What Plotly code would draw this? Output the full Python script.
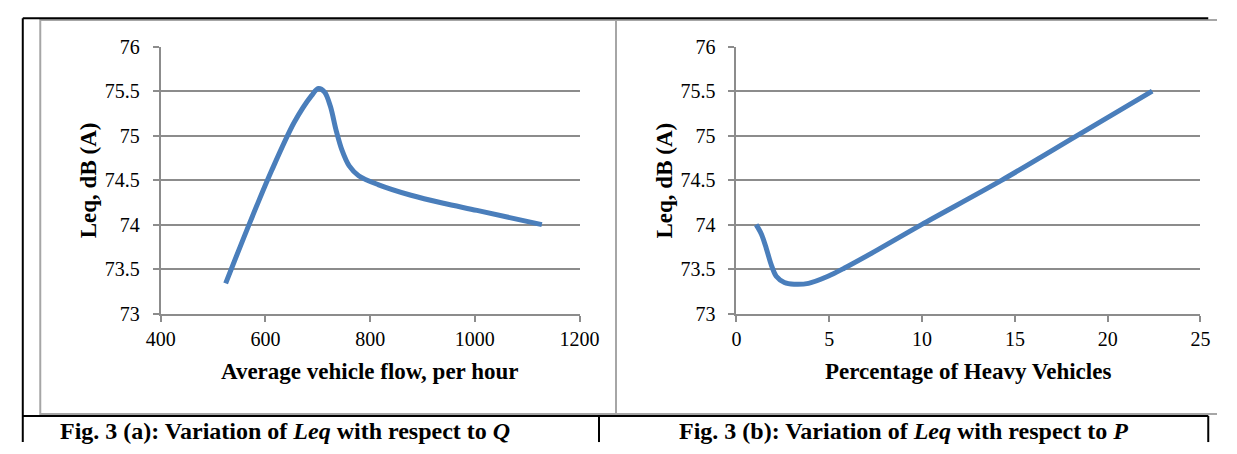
import plotly.graph_objects as go

# ---- data ----
flow_q = [524, 570, 612, 655, 688, 701, 713, 724, 735, 746, 760, 778, 815, 878, 940, 1004, 1128]
leq_q = [73.34, 74.02, 74.61, 75.15, 75.45, 75.53, 75.49, 75.33, 75.06, 74.84, 74.66, 74.55,
         74.45, 74.33, 74.24, 74.16, 74.00]

heavy_p = [1.06, 1.35, 1.61, 1.87, 2.14, 2.58, 3.10, 3.88, 4.93, 5.80, 7.55, 9.97, 14.3, 18.35, 22.4]
leq_p = [74.00, 73.89, 73.73, 73.55, 73.42, 73.35, 73.33, 73.34, 73.42, 73.51, 73.71, 74.00,
         74.50, 75.00, 75.50]

y_ticks = [73, 73.5, 74, 74.5, 75, 75.5, 76]
y_ticktext = ["73", "73.5", "74", "74.5", "75", "75.5", "76"]
q_ticks = [400, 600, 800, 1000, 1200]
p_ticks = [0, 5, 10, 15, 20, 25]

x_title_a = "Average vehicle flow, per hour"
x_title_b = "Percentage of Heavy Vehicles"
y_title = "Leq, dB (A)"
caption_a = "Fig. 3 (a): Variation of <i>Leq</i> with respect to <i>Q</i>"
caption_b = "Fig. 3 (b): Variation of <i>Leq</i> with respect to <i>P</i>"

# ---- layout helpers (pixel -> paper) ----
W, H = 1237, 454
def fx(px):
    return px / W
def fy(py):
    return 1 - py / H

FONT = "Times New Roman, Liberation Serif, serif"
LINE_COLOR = "#4A7EBB"
GRID = "#8c8c8c"

fig = go.Figure()
fig.add_trace(go.Scatter(x=flow_q, y=leq_q, mode="lines",
                         line=dict(color=LINE_COLOR, width=5, shape="spline", smoothing=0.9),
                         xaxis="x", yaxis="y", showlegend=False, hoverinfo="x+y"))
fig.add_trace(go.Scatter(x=heavy_p, y=leq_p, mode="lines",
                         line=dict(color=LINE_COLOR, width=5, shape="spline", smoothing=0.9),
                         xaxis="x2", yaxis="y2", showlegend=False, hoverinfo="x+y"))

axis_common = dict(showline=True, linecolor=GRID, linewidth=2, ticks="outside",
                   ticklen=6, tickwidth=2, tickcolor=GRID,
                   tickfont=dict(family=FONT, size=20, color="black"), zeroline=False)

y_common = dict(axis_common, range=[73, 76], tickvals=y_ticks, ticktext=y_ticktext,
                showgrid=True, gridcolor=GRID, gridwidth=2, ticklabelstandoff=9)
x_common = dict(axis_common, showgrid=False)

fig.update_layout(
    width=W, height=H,
    margin=dict(l=0, r=0, t=0, b=0),
    paper_bgcolor="white", plot_bgcolor="white",
    xaxis=dict(x_common, domain=[fx(150), fx(581)], range=[400, 1200], tickvals=q_ticks, anchor="y"),
    yaxis=dict(y_common, domain=[fy(318), fy(37.5)], anchor="x"),
    xaxis2=dict(x_common, domain=[fx(742.5), fx(1220)], range=[0, 25], tickvals=p_ticks, anchor="y2"),
    yaxis2=dict(y_common, domain=[fy(318), fy(37.5)], anchor="x2"),
)

# ---- frames: gray chart borders, black table lines (all kept inside the paper) ----
shapes = []
gray = dict(color="#a6a6a6", width=2)
shapes.append(dict(type="rect", xref="paper", yref="paper",
                   x0=fx(26), x1=fx(618.5), y0=fy(423.5), y1=fy(9.5), line=gray, layer="below"))
for (x0, y0, x1, y1) in [(618.5, 9.5, 1237, 9.5), (618.5, 423.5, 1237, 423.5)]:
    shapes.append(dict(type="line", xref="paper", yref="paper", layer="below",
                       x0=fx(x0), x1=fx(x1), y0=fy(y0), y1=fy(y1), line=gray))
black = dict(color="black", width=2)
for (x0, y0, x1, y1) in [(8, 7.5, 1228, 7.5), (8, 7.5, 8, 453), (8, 425.5, 1228, 425.5),
                         (601, 425.5, 601, 453), (1228, 425.5, 1228, 453)]:
    shapes.append(dict(type="line", xref="paper", yref="paper",
                       x0=fx(x0), x1=fx(x1), y0=fy(y0), y1=fy(y1), line=black))
fig.update_layout(shapes=shapes)

# ---- titles and captions ----
ann = []
title_font = dict(family=FONT, size=23, color="black", weight="bold")
ann.append(dict(text=x_title_a, x=fx(365), y=fy(379), xref="paper", yref="paper",
                showarrow=False, font=title_font, xanchor="center", yanchor="middle"))
ann.append(dict(text=x_title_b, x=fx(981), y=fy(379), xref="paper", yref="paper",
                showarrow=False, font=title_font, xanchor="center", yanchor="middle"))
ann.append(dict(text=y_title, x=fx(76), y=fy(178), xref="paper", yref="paper", textangle=-90,
                showarrow=False, font=title_font, xanchor="center", yanchor="middle"))
ann.append(dict(text=y_title, x=fx(668), y=fy(178), xref="paper", yref="paper", textangle=-90,
                showarrow=False, font=title_font, xanchor="center", yanchor="middle"))
cap_font = dict(family=FONT, size=24, color="black", weight="bold")
ann.append(dict(text=caption_a, x=fx(278), y=fy(441), xref="paper", yref="paper",
                showarrow=False, font=cap_font, xanchor="center", yanchor="middle"))
ann.append(dict(text=caption_b, x=fx(914), y=fy(441), xref="paper", yref="paper",
                showarrow=False, font=cap_font, xanchor="center", yanchor="middle"))
fig.update_layout(annotations=ann)

fig.write_html("out.html", config={"displayModeBar": False},
               post_script="document.body.style.margin='0';document.body.style.overflow='hidden';")
